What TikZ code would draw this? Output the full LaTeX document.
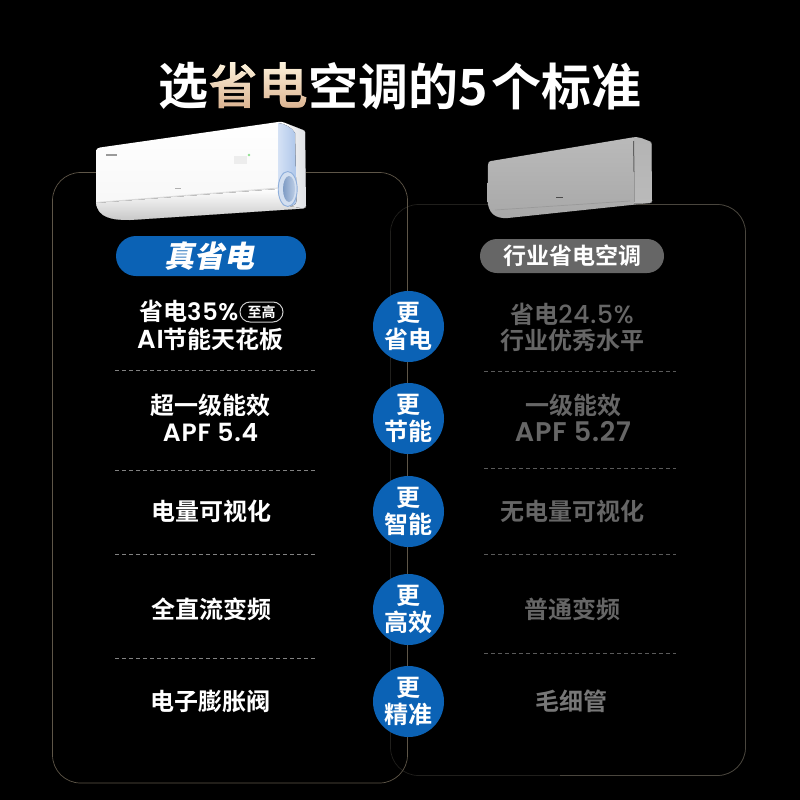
\documentclass[tikz,border=0pt]{standalone}
\usepackage{fontspec}
\usetikzlibrary{fadings}
\setmainfont{Noto Sans CJK SC}[BoldFont={Noto Sans CJK SC Bold}]
\newfontfamily\cjkm{Noto Sans CJK SC Medium}
\newfontfamily\cjkb{Noto Sans CJK SC Bold}
\newfontfamily\cjkk{Noto Sans CJK SC Black}
\newfontfamily\lat{Poppins Medium}[LetterSpace=3]
\newfontfamily\latb{Poppins SemiBold}[LetterSpace=3]
\definecolor{brandblue}{HTML}{0B62B5}
\definecolor{cardl}{HTML}{5E5648}
\definecolor{cardr}{HTML}{4A463E}
\definecolor{cardrd}{HTML}{201F1C}
\definecolor{dim}{HTML}{666666}
\definecolor{goldtop}{HTML}{FFF6E0}
\definecolor{goldbot}{HTML}{D9AE8A}
\definecolor{gA}{HTML}{F6F6F6}
\definecolor{gB}{HTML}{F0F1F3}
\definecolor{gC}{HTML}{DFE1E5}
\definecolor{gD}{HTML}{C8C8C8}
\definecolor{gE}{HTML}{D8D8D8}
\definecolor{bA}{HTML}{D5E2F5}
\definecolor{bB}{HTML}{AEC6EA}
\definecolor{bC}{HTML}{D3DFF0}
\definecolor{bD}{HTML}{8FAFDB}
\definecolor{bE}{HTML}{7F9CC4}
\definecolor{bF}{HTML}{BCCDE6}
\definecolor{gF}{HTML}{EDEDED}
\definecolor{grn}{HTML}{8FE08F}
\definecolor{gG}{HTML}{9A9A9A}
\definecolor{gH}{HTML}{B0B0B0}
\definecolor{rA}{HTML}{BABABA}
\definecolor{rB}{HTML}{A8A8A8}
\definecolor{rC}{HTML}{606060}
\definecolor{rD}{HTML}{969696}
\definecolor{rE}{HTML}{9A9A9A}
\definecolor{rF}{HTML}{4A4A4A}
\definecolor{rG}{HTML}{B4B4B4}
\definecolor{sepl}{HTML}{828282}
\definecolor{sepr}{HTML}{5A5A5A}
\definecolor{badgeline}{HTML}{CCCCCC}
\definecolor{dimb}{HTML}{777777}
\newcommand{\fs}[1]{\fontsize{#1}{#1}\selectfont}
\begin{tikzfadingfrompicture}[name=titlefade]
\node[text=transparent!0,inner sep=0pt] at (0,0) {\cjkb\fs{50}省电};
\end{tikzfadingfrompicture}
\tikzset{
 sep/.style={draw=#1,line width=1pt,dash pattern=on 4pt off 3pt},
 lefttxt/.style={text=white,inner sep=0pt,font=\cjkb\fs{24},align=center},
 righttxt/.style={text=dim,inner sep=0pt,font=\cjkb\fs{24},align=center},
 badgecirc/.style={circle,fill=brandblue,minimum size=71pt,inner sep=0pt,text=white,font=\cjkb\fs{24},align=center},
 titletxt/.style={inner sep=0pt,anchor=west,text=white,font=\cjkb\fs{50}},
}
\begin{document}
\begin{tikzpicture}[x=1pt,y=-1pt]
\useasboundingbox[fill=black] (0,0) rectangle (800,800);
% cards
\draw[cardrd,line width=0.7pt,rounded corners=28pt] (390.5,204.5) rectangle (745.5,775.5);
\draw[cardr,line width=0.7pt,rounded corners=28pt] (560,204.5) -- (745.5,204.5) -- (745.5,775.5) -- (560,775.5);
\draw[cardl,line width=0.7pt,rounded corners=28pt] (407.5,300) -- (407.5,783) -- (52.5,783) -- (52.5,172.5) -- (407.5,172.5) -- (407.5,300);
% title
\node[titletxt] (ta) at (158,86) {选};
\node[titletxt] (tb) at (308,86) {空调的};
\node[titletxt] (tc) at (458,86) {5\kern3.5pt 个标准};
\fill[path fading=titlefade,fit fading=false,fading transform={shift={(258pt,-86pt)}},top color=goldtop,bottom color=goldbot] (208,60) rectangle (308,112);
% left AC
\fill[top color=white,bottom color=gA] (96,152) .. controls (96,149) and (97,148) .. (100,147.5) -- (278,122) .. controls (281,121.5) and (282,122) .. (284,122.5) -- (303,130) .. controls (305,131) and (305,131) .. (305,132) -- (306,206) .. controls (306,208) and (305,208) .. (303,208.5) -- (130,220) .. controls (112,220) and (96,218) .. (96,200) -- cycle;
\fill[left color=gB,right color=gC] (290,125) -- (303,130) -- (305,132) -- (306,206) -- (303,208.5) -- (294,209) -- cycle;
\fill[top color=white,bottom color=gD] (96,203) -- (278,189) -- (283,205) -- (303,208.5) -- (130,220) .. controls (112,220) and (98,218) .. cycle;
\draw[gE,line width=0.8pt] (96,202.5) -- (278,188);
\fill[left color=bA,right color=bB] (278,123) .. controls (286,124) and (292,128) .. (295,133) -- (296.5,200) .. controls (296.5,204) and (294,206) .. (291,206) -- (286,205) .. controls (280,200) and (278,192) .. (278,182) -- cycle;
\fill[bC] (287.7,189) ellipse (9.5pt and 17.5pt);
\draw[bD,line width=0.9pt] (287.7,189) ellipse (9.5pt and 17.5pt);
\shade[left color=bE,right color=bF] (289,189) ellipse (6pt and 13pt);
\fill[gF] (234,156) rectangle (247,164);
\fill[grn] (249,155) circle (1.3pt);
\fill[gG] (106,154) rectangle (117,156);
\fill[gH] (175,187.5) rectangle (181,189);
% right AC
\fill[top color=rA,bottom color=rB] (488,165) .. controls (488,162) and (489,161.5) .. (491,161) -- (632,137.5) .. controls (636,137) and (638,137) .. (641,138) -- (650,141.5) .. controls (651,142) and (651.5,142) .. (651.5,144) -- (652,201) .. controls (652,203) and (651,203) .. (650,203) -- (508,218) .. controls (495,219) and (488,213) .. (487.5,200) -- cycle;
\fill[top color=rG,bottom color=rA] (634,138) -- (641,138) -- (650,141.5) -- (651.5,144) -- (652,201) -- (650,203) -- (634,203.5) -- cycle;
\draw[rC,line width=1pt] (633.5,141) -- (634,172);
\draw[rD,line width=0.6pt] (634,172) -- (634,202);
\draw[rE,line width=0.7pt] (495,210) -- (630,201);
\fill[rF] (556,196.5) rectangle (563,198);
% pills
\node[fill=brandblue,rounded corners=20pt,minimum width=190pt,minimum height=40pt,inner sep=0pt] (pl) at (211,256) {};
\node[text=white,inner sep=0pt,font=\cjkk\fs{30},xslant=0.2] (plt) at (211.5,256) {真省电};
\node[fill=dim,rounded corners=17pt,minimum width=184pt,minimum height=34pt,inner sep=0pt,text=white,font=\cjkb\fs{23}] (pr) at (572,256) {行业省电空调};
% separators
\foreach \y in {370,470,554,658.5} \draw[sep=sepl] (115,\y) -- (315,\y);
\foreach \y in {371.5,468.5,554.5,653.5} \draw[sep=sepr] (484,\y) -- (676,\y);
% left texts
\node[lefttxt,anchor=west] (l1a) at (139,311) {省电{\latb 35\%}};
\node[draw=badgeline,line width=1pt,rounded corners=10pt,minimum width=43pt,minimum height=20pt,inner sep=0pt,text=white,font=\cjkb\fs{14}] (l1b) at (261.5,312) {至高};
\node[lefttxt] (l1c) at (210.5,339) {{\latb\fs{26}AI}节能天花板};
\node[lefttxt] (l2a) at (210.5,405) {超一级能效};
\node[lefttxt] (l2b) at (210.5,432) {\latb\fs{25}APF 5.4};
\node[lefttxt] (l3) at (211,511) {电量可视化};
\node[lefttxt] (l4) at (211,609) {全直流变频};
\node[lefttxt] (l5) at (210.5,701) {电子膨胀阀};
% right texts
\node[righttxt] (r1a) at (572,314) {省电{\lat\fs{25}24.5\%}};
\node[righttxt] (r1b) at (572,340) {行业优秀水平};
\node[righttxt] (r2a) at (573,405) {一级能效};
\node[righttxt] (r2b) at (573,432) {\latb\fs{27}APF 5.27};
\node[righttxt] (r3) at (572,511) {无电量可视化};
\node[righttxt] (r4) at (572,609) {普通变频};
\node[righttxt,text=dimb] (r5) at (571.5,701) {毛细管};
% circles
\node[badgecirc] (c1) at (408.5,326.5) {更\\[3pt]省电};
\node[badgecirc] (c2) at (408.5,418.5) {更\\[3pt]节能};
\node[badgecirc] (c3) at (408.5,511.5) {更\\[3pt]智能};
\node[badgecirc] (c4) at (408.5,609.5) {更\\[3pt]高效};
\node[badgecirc] (c5) at (408.5,701.5) {更\\[3pt]精准};
\end{tikzpicture}
\end{document}
